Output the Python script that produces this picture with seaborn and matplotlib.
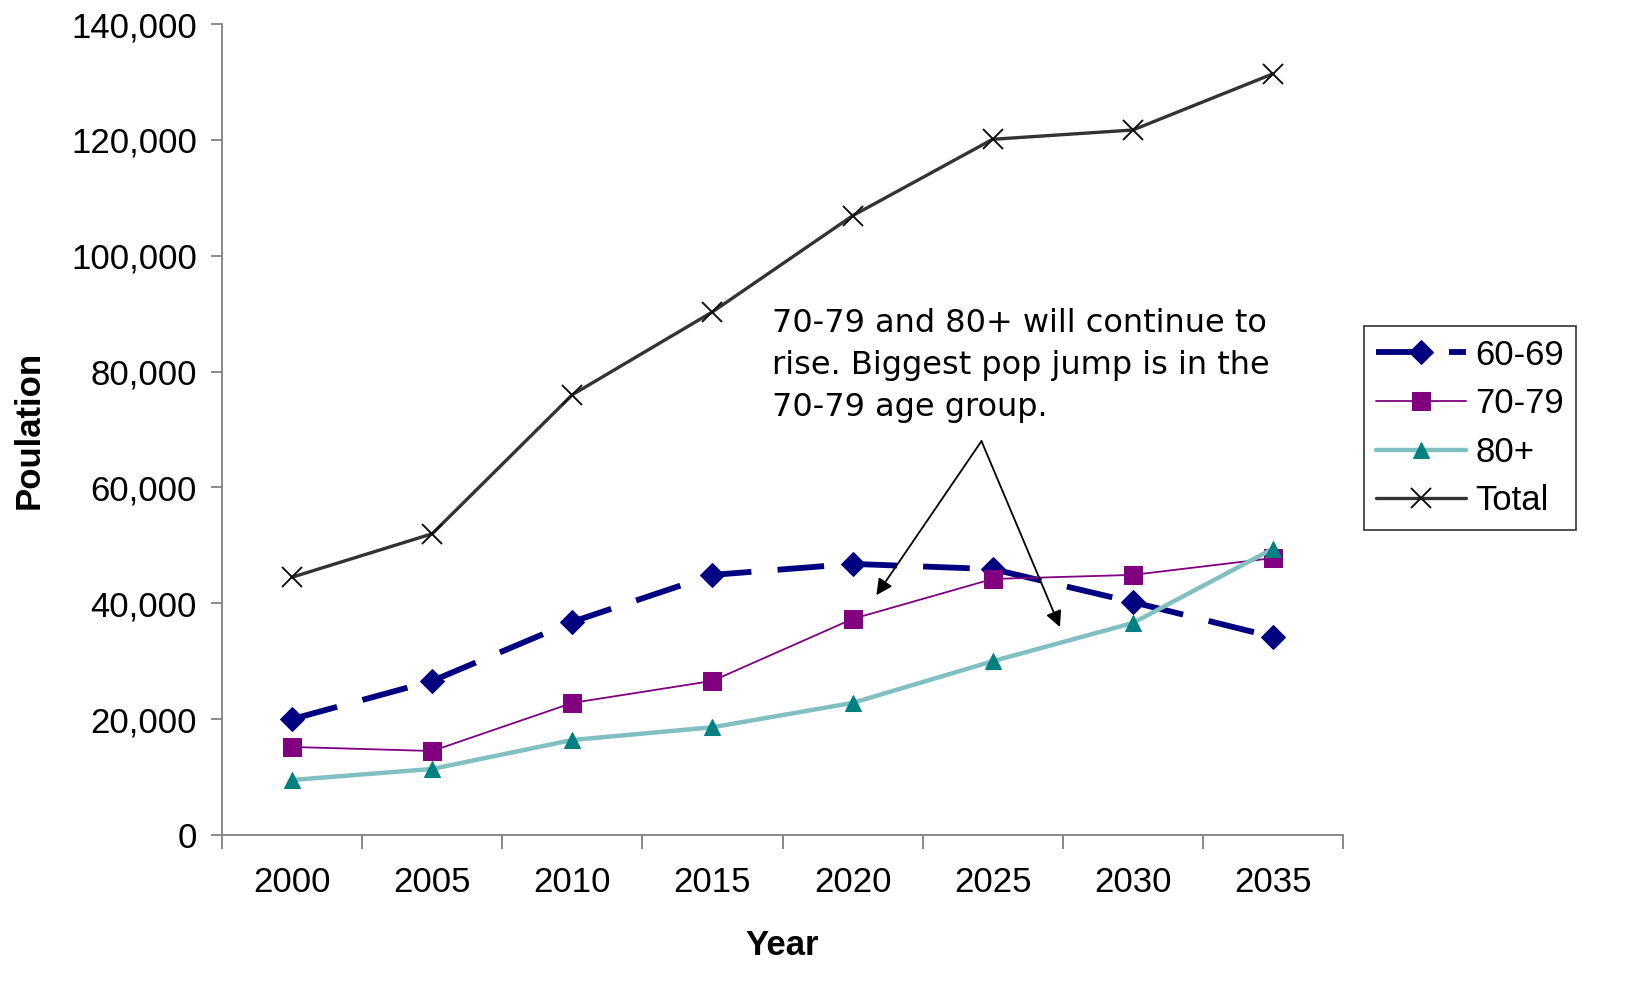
import matplotlib
matplotlib.use("Agg")
import matplotlib.pyplot as plt
import seaborn as sns
import pandas as pd
from matplotlib.ticker import FuncFormatter, FixedLocator

years = [2000, 2005, 2010, 2015, 2020, 2025, 2030, 2035]
age_60_69 = [20000, 26600, 36800, 44900, 46800, 45900, 40200, 34200]
age_70_79 = [15200, 14500, 22800, 26600, 37300, 44200, 44900, 47800]
age_80_plus = [9500, 11400, 16400, 18600, 22800, 30000, 36600, 49400]
total = [44500, 52000, 76000, 90300, 106900, 120100, 121700, 131400]

note = "70-79 and 80+ will continue to\nrise. Biggest pop jump is in the\n70-79 age group."

df = pd.DataFrame({"Year": years, "60-69": age_60_69, "70-79": age_70_79,
                   "80+": age_80_plus, "Total": total})

sns.set_style("white")
plt.rcParams["font.family"] = ["Liberation Sans", "DejaVu Sans"]
plt.rcParams["text.color"] = "black"
plt.rcParams["axes.labelcolor"] = "black"
plt.rcParams["xtick.color"] = "black"
plt.rcParams["ytick.color"] = "black"

fig = plt.figure(figsize=(16.37, 10.01), dpi=100)
ax = fig.add_axes([222/1637, 1 - 835/1001, (1343-222)/1637, (835-24)/1001])

sns.lineplot(data=df, x="Year", y="60-69", ax=ax, color="#000080", lw=4.2,
             marker="D", markersize=12, markeredgecolor="#000080", label="60-69")
ax.lines[-1].set_dashes((8, 4.5))
sns.lineplot(data=df, x="Year", y="70-79", ax=ax, color="#800080", lw=1.3,
             marker="s", markersize=13, markeredgecolor="#800080", label="70-79")
sns.lineplot(data=df, x="Year", y="80+", ax=ax, color="#80C0C0", lw=3.2,
             marker="^", markersize=11, markerfacecolor="#008080",
             markeredgecolor="#008080", label="80+")
sns.lineplot(data=df, x="Year", y="Total", ax=ax, color="#333333", lw=2.4,
             marker="x", markersize=14, markeredgewidth=1.4,
             markeredgecolor="#111111", label="Total")

ax.set_xlim(1997.5, 2037.5)
ax.set_ylim(0, 140000)
ax.set_yticks(range(0, 140001, 20000))
ax.yaxis.set_major_formatter(FuncFormatter(lambda v, p: f"{int(v):,}"))
ax.set_xticks(years)
ax.set_xticklabels([str(y) for y in years])
ax.xaxis.set_minor_locator(FixedLocator([1997.5 + 5*i for i in range(9)]))

for s in ["top", "right"]:
    ax.spines[s].set_visible(False)
for s in ["left", "bottom"]:
    ax.spines[s].set_color("#808080")
    ax.spines[s].set_linewidth(1.3)

ax.tick_params(axis="y", which="major", direction="out", length=8, width=1.3,
               color="#808080", labelcolor="black", labelsize=25, pad=10, left=True)
ax.tick_params(axis="x", which="major", length=0, labelsize=25, pad=22,
               labelcolor="black", bottom=True)
ax.tick_params(axis="x", which="minor", direction="out", length=10, width=1.3,
               color="#808080", bottom=True)

ax.set_xlabel("Year", fontsize=25, fontweight="bold", labelpad=22)
ax.set_ylabel("Poulation", fontsize=25, fontweight="bold", labelpad=18)

fig.text(772/1637, 1 - 308/1001, note, fontsize=23, va="top", ha="left",
         family="DejaVu Sans", linespacing=1.45, color="black")

ax.annotate("", xy=(2020.85, 41400), xytext=(2024.6, 68000),
            arrowprops=dict(arrowstyle="-|>", color="black", lw=1.3,
                            mutation_scale=24, shrinkA=0, shrinkB=0))
ax.annotate("", xy=(2027.4, 35900), xytext=(2024.6, 68000),
            arrowprops=dict(arrowstyle="-|>", color="black", lw=1.3,
                            mutation_scale=24, shrinkA=0, shrinkB=0))

leg = ax.legend(loc="center left", bbox_to_anchor=(1364/1637, 1 - 428/1001),
                bbox_transform=fig.transFigure, fontsize=25, frameon=True,
                fancybox=False, edgecolor="black", handlelength=2.6,
                handletextpad=0.25, labelspacing=0.45, borderpad=0.35,
                borderaxespad=0)
leg.get_frame().set_linewidth(1.2)

fig.savefig("out.png", dpi=100)
